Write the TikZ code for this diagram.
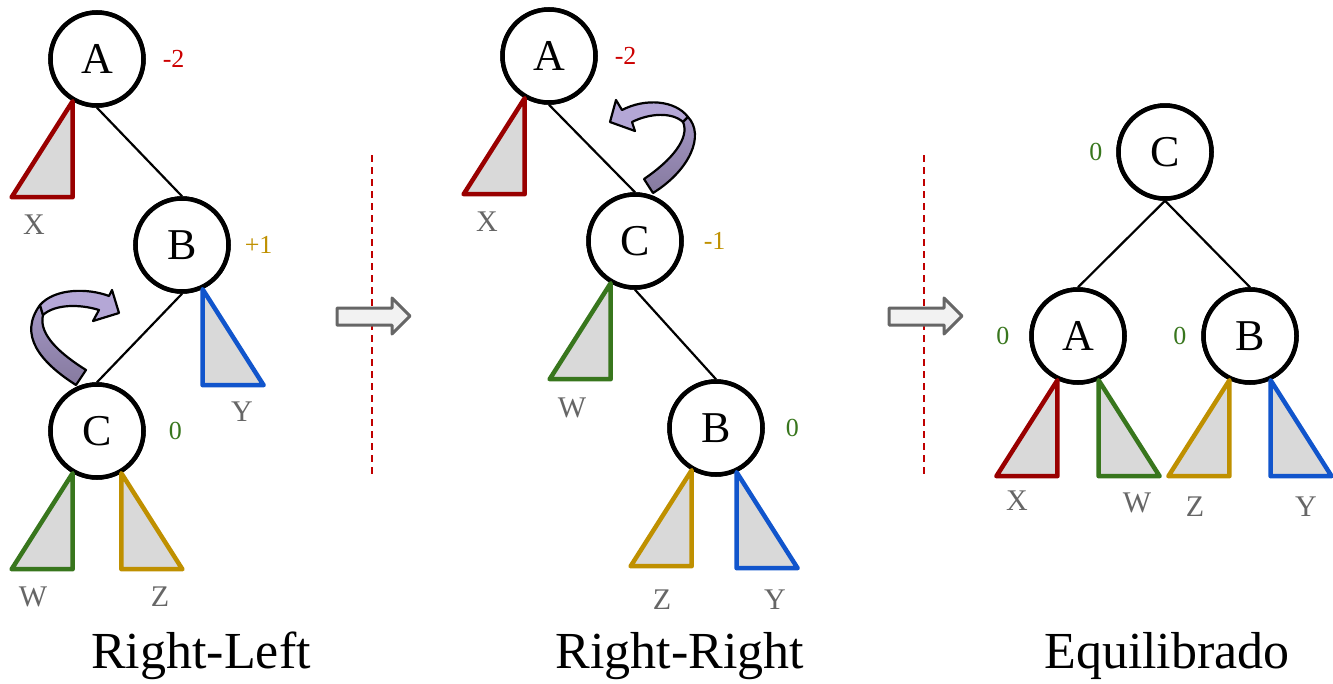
\documentclass[tikz,border=0pt]{standalone}
\usepackage{fontspec}
\setmainfont{Liberation Serif}
\usetikzlibrary{positioning}
\definecolor{TreeRed}{HTML}{990000}
\definecolor{TreeGreen}{HTML}{38761D}
\definecolor{TreeGold}{HTML}{BF9000}
\definecolor{TreeBlue}{HTML}{1155CC}
\definecolor{BalRed}{HTML}{CC0000}
\definecolor{LeafGray}{HTML}{666666}
\definecolor{Lavender}{HTML}{B4A7D6}
\definecolor{LavenderMid}{HTML}{A396C4}
\definecolor{LavenderDark}{HTML}{867A9F}
\definecolor{SplitRed}{HTML}{C00000}
\newcommand{\subL}[2]{\draw[subtree,draw=#2] (#1) -- ++(-61,96) -- ++(61,0) -- cycle;}
\newcommand{\subR}[2]{\draw[subtree,draw=#2] (#1) -- ++(0,96) -- ++(61,0) -- cycle;}
\begin{document}
\begin{tikzpicture}[x=1pt,y=-1pt,
    treenode/.style={circle,draw,line width=4.5pt,fill=white,minimum size=93pt,inner sep=0pt,
      font=\fontsize{44}{48}\selectfont},
    treeedge/.style={line width=2.2pt},
    subtree/.style={line width=4.5pt,fill=black!15,line join=round},
    balance/.style={inner sep=0pt,outer sep=0pt,font=\fontsize{26}{28}\selectfont},
    leaf/.style={inner sep=0pt,text=LeafGray,font=\fontsize{30}{32}\selectfont},
    caption/.style={inner sep=0pt,anchor=base,font=\fontsize{52}{56}\selectfont},
    divider/.style={SplitRed,line width=1.5pt,dash pattern=on 7pt off 5pt},
    hollowarrow/.style={draw=LeafGray,fill=black!5,line width=3pt,line join=round},
    turn/.style={draw=black,line width=2.2pt,line join=round}]
  \useasboundingbox (0,0) rectangle (1333,683);

  % Right-Left
  \node[treenode] (lA) at (97,59) {A};
  \node[treenode] (lB) at (182,245) {B};
  \node[treenode] (lC) at (97,431) {C};
  \draw[treeedge] (lA.south) -- (lB.north);
  \draw[treeedge] (lB.south) -- (lC.north);
  \node[treenode] at (lA) {A};
  \node[treenode] at (lB) {B};
  \node[treenode] at (lC) {C};
  \subL{lA.240}{TreeRed}
  \subR{lB.295}{TreeBlue}
  \subL{lC.240}{TreeGreen}
  \subR{lC.300}{TreeGold}
  \node[balance,text=BalRed,right=17pt of lA] (lbA) {-2};
  \node[balance,text=TreeGold,right=14pt of lB] (lbB) {+1};
  \node[balance,text=TreeGreen,right=23pt of lC] (lbC) {0};
  \node[leaf] (lX) at (34,225) {X};
  \node[leaf] (lY) at (242,412) {Y};
  \node[leaf] (lW) at (33,597) {W};
  \node[leaf] (lZ) at (160,597) {Z};
  \draw[turn,top color=LavenderMid,bottom color=LavenderDark]
    (76,385) .. controls (40,362) and (18,335) .. (40,305) -- (43,315)
    .. controls (38,335) and (62,355) .. (86,370) -- cycle;
  \draw[turn,fill=Lavender]
    (40,305) .. controls (55,288) and (88,288) .. (109,296) -- (112,290) -- (119,313)
    -- (93,321) -- (99,310) .. controls (80,304) and (55,304) .. (43,315) -- cycle;
  \node[caption] (capL) at (201,668) {Right-Left};

  \draw[divider] (372,155) -- (372,478);
  \draw[hollowarrow] (337,308) -- (392,308) -- (392,298) -- (410,316)
    -- (392,334) -- (392,325) -- (337,325) -- cycle;

  % Right-Right
  \node[treenode] (mA) at (549,56) {A};
  \node[treenode] (mC) at (635,241) {C};
  \node[treenode] (mB) at (716,428) {B};
  \draw[treeedge] (mA.south) -- (mC.north);
  \draw[treeedge] (mC.south) -- (mB.north);
  \node[treenode] at (mA) {A};
  \node[treenode] at (mC) {C};
  \node[treenode] at (mB) {B};
  \subL{mA.240}{TreeRed}
  \subL{mC.240}{TreeGreen}
  \subL{mB.240}{TreeGold}
  \subR{mB.295}{TreeBlue}
  \node[balance,text=BalRed,right=17pt of mA] (mbA) {-2};
  \node[balance,text=TreeGold,right=20pt of mC] (mbC) {-1};
  \node[balance,text=TreeGreen,right=21pt of mB] (mbB) {0};
  \node[leaf] (mX) at (487,222) {X};
  \node[leaf] (mW) at (572,408) {W};
  \node[leaf] (mZ) at (662,600) {Z};
  \node[leaf] (mY) at (775,600) {Y};
  \draw[turn,fill=Lavender]
    (688,117) .. controls (675,100) and (645,98) .. (622,110) -- (616,100) -- (610,122)
    -- (635,131) -- (632,122) .. controls (650,113) and (672,112) .. (683,122) -- cycle;
  \draw[turn,top color=LavenderMid,bottom color=LavenderDark]
    (688,117) .. controls (705,135) and (690,170) .. (653,193) -- (644,179)
    .. controls (672,160) and (690,138) .. (683,122) -- cycle;
  \node[caption] (capM) at (680,668) {Right-Right};

  \draw[divider] (924,155) -- (924,478);
  \draw[hollowarrow] (889,308) -- (944,308) -- (944,298) -- (962,316)
    -- (944,334) -- (944,325) -- (889,325) -- cycle;

  % Equilibrado
  \node[treenode] (rC) at (1165,152) {C};
  \node[treenode] (rA) at (1078,336) {A};
  \node[treenode] (rB) at (1250,336) {B};
  \draw[treeedge] (rC.south) -- (rA.north);
  \draw[treeedge] (rC.south) -- (rB.north);
  \node[treenode] at (rC) {C};
  \node[treenode] at (rA) {A};
  \node[treenode] at (rB) {B};
  \subL{rA.245}{TreeRed}
  \subR{rA.295}{TreeGreen}
  \subL{rB.245}{TreeGold}
  \subR{rB.295}{TreeBlue}
  \node[balance,text=TreeGreen,left=14pt of rC] (rbC) {0};
  \node[balance,text=TreeGreen,left=20pt of rA] (rbA) {0};
  \node[balance,text=TreeGreen,left=15pt of rB] (rbB) {0};
  \node[leaf] (rX) at (1017,501) {X};
  \node[leaf] (rW) at (1137,503) {W};
  \node[leaf] (rZ) at (1195,507) {Z};
  \node[leaf] (rY) at (1306,507) {Y};
  \node[caption] (capR) at (1167,668) {Equilibrado};
\end{tikzpicture}
\end{document}
